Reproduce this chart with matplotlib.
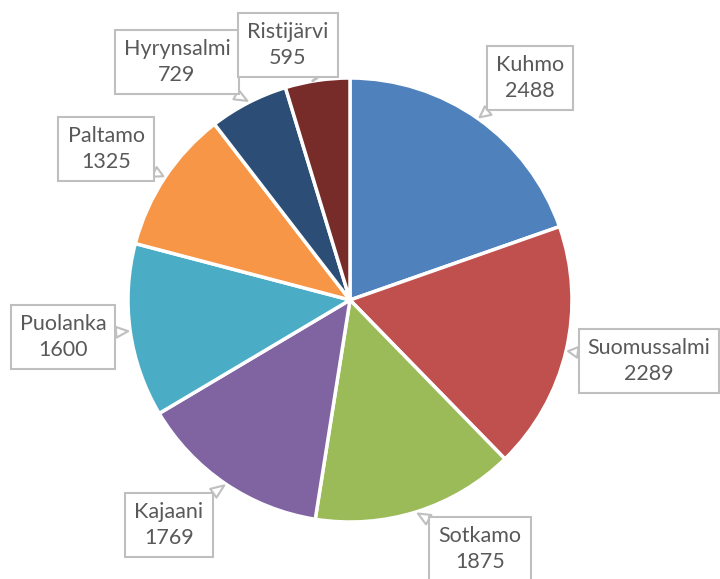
import numpy as np
import matplotlib.pyplot as plt

# Kunnat ja arvot
names = ["Kuhmo", "Suomussalmi", "Sotkamo", "Kajaani",
         "Puolanka", "Paltamo", "Hyrynsalmi", "Ristijärvi"]
values = [2488, 2289, 1875, 1769, 1600, 1325, 729, 595]
colors = ["#4F81BD", "#C0504D", "#9BBB59", "#8064A2",
          "#4BACC6", "#F79646", "#2C4D75", "#772C2A"]

# label box centres in pixels (from top-left)
box_pos = [(530, 78), (649, 361), (480, 549), (169, 525),
           (63, 337), (106, 149), (177, 62), (288, 45)]

W, H = 720, 579
fig = plt.figure(figsize=(7.2, 5.79), dpi=100)
ax = fig.add_axes([0, 0, 1, 1])

cx, cy, r = 350, H - 300, 222
wedges, _ = ax.pie(values, colors=colors, startangle=90, counterclock=False,
                   center=(cx, cy), radius=r, frame=True,
                   wedgeprops=dict(edgecolor="white", linewidth=2.5))
ax.set_xlim(0, W)
ax.set_ylim(0, H)
ax.axis("off")

for w, name, val, (bx, by) in zip(wedges, names, values, box_pos):
    ang = np.deg2rad((w.theta1 + w.theta2) / 2)
    px = cx + (r + 2) * np.cos(ang)
    py = cy + (r + 2) * np.sin(ang)
    ax.annotate(f"{name}\n{val}", xy=(px, py), xytext=(bx, H - by),
                ha="center", va="center", fontsize=15.5, color="#595959",
                family="Lato", linespacing=1.35,
                bbox=dict(boxstyle="square,pad=0.42", fc="white",
                          ec="#BFBFBF", lw=1.5),
                arrowprops=dict(arrowstyle="wedge,tail_width=0.5",
                                fc="white", ec="#BFBFBF", lw=1.5,
                                shrinkA=0, shrinkB=0))

fig.savefig("out.png", dpi=100)
